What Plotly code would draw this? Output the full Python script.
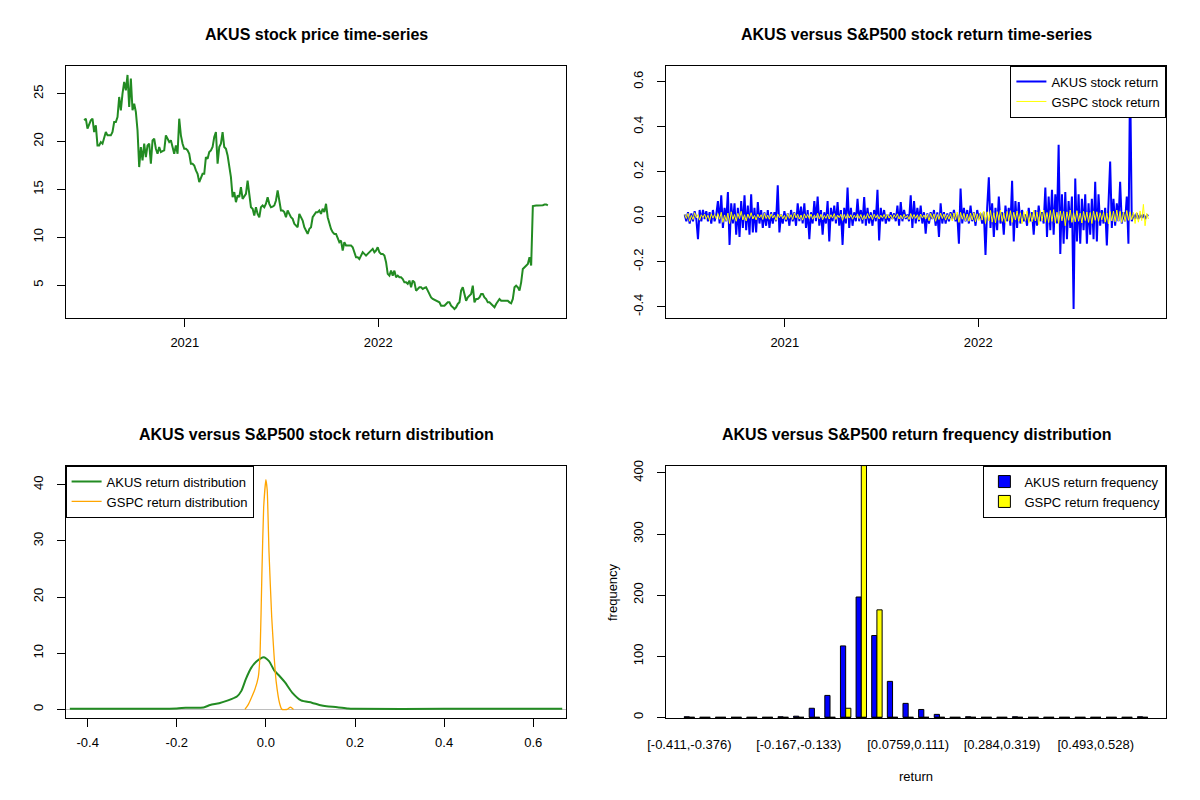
import pandas as pd
import plotly.graph_objects as go

FONT = "Liberation Sans, Arial, sans-serif"

################
# Data
################

# AKUS closing price, every 3 days
price_start, price_end = "2020-06-25", "2022-11-17"
akus_price = [
    22.21, 22.38, 21.34, 21.69, 22.21, 22.38, 20.99, 21.69, 19.59, 19.59,
    19.94, 19.77, 20.47, 20.99, 20.64, 20.64, 20.64, 20.99, 22.04, 22.04,
    22.56, 24.65, 23.26, 25.00, 26.22, 25.35, 26.95, 23.60, 26.57, 23.26,
    23.95, 23.08, 21.16, 17.33, 19.42, 18.03, 19.77, 18.37, 19.59, 19.77,
    17.68, 20.12, 20.29, 19.24, 18.72, 19.42, 18.90, 19.00, 19.07, 20.64,
    20.29, 19.94, 20.12, 19.50, 18.72, 19.59, 18.72, 22.38, 20.64, 19.77,
    19.24, 19.24, 19.07, 18.72, 17.68, 17.68, 17.50, 16.98, 16.63, 15.76,
    16.11, 16.63, 16.63, 18.37, 18.20, 18.90, 19.07, 19.42, 20.47, 20.99,
    17.68, 19.42, 19.77, 20.99, 19.42, 19.24, 18.55, 17.33, 16.28, 14.19,
    14.71, 13.66, 14.36, 14.19, 15.23, 14.01, 14.36, 14.54, 15.90, 14.36,
    13.14, 12.97, 12.27, 13.14, 12.44, 12.09, 13.14, 13.32, 13.14, 13.50,
    14.19, 13.49, 13.14, 13.20, 13.32, 13.84, 14.89, 13.84, 12.79, 12.79,
    12.62, 12.09, 12.79, 12.44, 12.09, 11.92, 11.40, 11.22, 11.05, 12.44,
    12.09, 11.75, 11.05, 10.70, 10.35, 10.87, 11.05, 12.09, 12.44, 12.62,
    12.62, 12.79, 12.44, 12.97, 12.62, 13.49, 12.09, 11.40, 10.87, 10.53,
    10.35, 10.35, 9.83, 9.48, 9.65, 8.61, 9.48, 9.13, 9.13, 9.13,
    9.13, 8.95, 8.43, 7.91, 7.91, 7.73, 8.08, 8.43, 8.26, 8.08,
    8.26, 8.43, 8.61, 8.78, 8.43, 8.61, 8.95, 8.43, 8.26, 8.26,
    8.08, 7.39, 6.17, 5.99, 6.51, 5.99, 6.51, 5.82, 5.99, 5.82,
    5.82, 5.64, 5.29, 5.29, 5.12, 5.47, 4.77, 5.47, 5.29, 4.42,
    4.59, 4.77, 4.77, 4.59, 4.70, 4.77, 4.42, 4.07, 3.72, 3.55,
    3.45, 3.37, 3.30, 3.20, 2.85, 2.85, 2.85, 3.03, 3.20, 3.20,
    2.85, 2.70, 2.50, 2.68, 3.03, 3.20, 4.42, 4.77, 3.90, 3.37,
    3.72, 3.90, 4.07, 4.94, 3.20, 3.55, 3.55, 3.72, 4.07, 4.07,
    3.72, 3.55, 3.20, 3.20, 3.03, 2.85, 2.68, 3.03, 3.37, 3.55,
    3.37, 3.40, 3.37, 3.37, 3.37, 3.20, 3.10, 3.55, 4.77, 4.94,
    4.77, 4.42, 5.29, 6.69, 6.86, 7.04, 7.21, 7.91, 7.04, 13.25,
    13.32, 13.32, 13.32, 13.32, 13.32, 13.35, 13.42, 13.42, 13.32,
]

# daily returns (sampled), AKUS and S&P500 index
ret_start, ret_end = "2020-06-26", "2022-11-18"
akus_return = [
    0.01, -0.02, 0.02, -0.03, 0.015, -0.02, 0.025, -0.01, -0.10, 0.03,
    -0.02, 0.03, -0.01, 0.025, -0.02, 0.02, -0.03, 0.03, -0.02, 0.01,
    0.07, -0.03, 0.095, -0.05, 0.04, -0.02, 0.11, -0.125, 0.06, -0.03,
    0.06, -0.08, 0.04, -0.09, 0.07, -0.05, 0.095, -0.06, 0.05, -0.08,
    0.10, -0.07, 0.04, -0.07, 0.065, -0.03, 0.03, -0.05, 0.02, -0.04,
    0.03, -0.05, 0.02, -0.03, 0.02, -0.02, 0.14, -0.07, 0.01, -0.03,
    0.025, -0.02, 0.015, -0.04, 0.03, -0.02, 0.02, -0.04, 0.06, -0.02,
    0.045, -0.03, 0.06, -0.05, 0.03, -0.10, 0.02, -0.03, 0.07, -0.02,
    0.09, -0.04, 0.03, -0.08, 0.02, -0.03, 0.07, -0.11, 0.04, -0.02,
    0.05, -0.03, 0.065, -0.04, 0.03, -0.125, 0.04, -0.03, 0.13, -0.05,
    0.04, -0.04, 0.02, -0.02, 0.08, -0.02, 0.03, -0.03, 0.087, -0.04,
    0.04, -0.03, 0.02, -0.04, 0.03, -0.02, 0.12, -0.105, 0.04, -0.02,
    0.03, -0.03, 0.01, -0.02, 0.02, -0.01, 0.015, -0.02, 0.05, -0.04,
    0.065, -0.02, 0.03, -0.01, 0.01, -0.02, 0.095, -0.05, 0.07, -0.03,
    0.04, -0.02, 0.05, -0.03, 0.02, -0.075, 0.015, -0.03, 0.02, -0.01,
    0.03, -0.04, 0.02, -0.09, 0.06, -0.03, 0.02, -0.03, 0.015, -0.02,
    0.02, -0.01, 0.03, -0.02, 0.01, -0.12, 0.125, -0.03, 0.04, -0.02,
    0.03, -0.03, 0.05, -0.02, 0.02, -0.04, 0.03, -0.01, 0.015, -0.03,
    0.02, -0.17, 0.04, 0.175, -0.05, 0.06, -0.09, 0.04, -0.06, 0.09,
    -0.03, 0.02, -0.08, 0.05, -0.02, 0.04, -0.04, 0.16, -0.11, 0.07,
    -0.05, 0.065, -0.03, 0.03, -0.02, 0.01, -0.04, 0.04, -0.02, 0.02,
    -0.08, 0.03, -0.04, 0.05, -0.02, 0.02, -0.03, 0.13, -0.09, 0.09,
    -0.06, 0.12, -0.08, 0.10, -0.03, 0.32, -0.165, 0.10, -0.12, 0.11,
    -0.10, 0.07, -0.05, 0.09, -0.41, 0.17, -0.11, 0.10, -0.12, 0.08,
    -0.06, 0.10, -0.12, 0.06, -0.08, 0.08, -0.10, 0.155, -0.11, 0.10,
    -0.04, 0.03, -0.03, 0.04, -0.127, 0.05, 0.245, -0.05, 0.08, -0.04,
    0.06, -0.02, 0.155, -0.03, 0.02, -0.02, 0.09, -0.12, 0.63, -0.02,
    0.01, -0.01, 0.015, -0.01, 0.01, -0.005, 0.01, -0.01, 0.005, 0.008,
]
gspc_return = [
    0.011, -0.008, 0.015, -0.02, 0.006, -0.012, 0.018, -0.005, 0.01, -0.015,
    0.009, -0.004, 0.012, -0.01, 0.007, -0.017, 0.013, -0.006, 0.01, -0.009,
    0.014, -0.011, 0.02, -0.025, 0.008, -0.018, 0.016, -0.03, 0.022, -0.012,
    0.01, -0.02, 0.015, -0.008, 0.024, -0.014, 0.009, -0.019, 0.012, -0.007,
    0.018, -0.01, 0.006, -0.014, 0.011, -0.005, 0.009, -0.012, 0.015, -0.008,
    0.007, -0.011, 0.013, -0.006, 0.008, -0.016, 0.012, -0.004, 0.01, -0.009,
    0.006, -0.013, 0.014, -0.007, 0.009, -0.012, 0.017, -0.005, 0.011, -0.01,
    0.008, -0.015, 0.013, -0.006, 0.01, -0.008, 0.012, -0.011, 0.007, -0.005,
    0.015, -0.009, 0.011, -0.013, 0.006, -0.007, 0.012, -0.01, 0.009, -0.006,
    0.014, -0.012, 0.008, -0.004, 0.011, -0.016, 0.01, -0.008, 0.013, -0.006,
    0.009, -0.011, 0.007, -0.005, 0.012, -0.008, 0.01, -0.013, 0.006, -0.009,
    0.014, -0.007, 0.008, -0.012, 0.011, -0.005, 0.009, -0.01, 0.007, -0.006,
    0.01, -0.008, 0.012, -0.006, 0.008, -0.011, 0.009, -0.004, 0.013, -0.01,
    0.007, -0.009, 0.011, -0.005, 0.006, -0.012, 0.014, -0.008, 0.01, -0.007,
    0.009, -0.014, 0.012, -0.006, 0.008, -0.01, 0.011, -0.018, 0.015, -0.009,
    0.013, -0.02, 0.01, -0.012, 0.016, -0.008, 0.012, -0.015, 0.009, -0.011,
    0.014, -0.019, 0.017, -0.013, 0.021, -0.025, 0.019, -0.011, 0.015, -0.018,
    0.012, -0.02, 0.016, -0.014, 0.018, -0.022, 0.013, -0.017, 0.02, -0.015,
    0.025, -0.03, 0.022, -0.019, 0.028, -0.024, 0.018, -0.027, 0.023, -0.016,
    0.03, -0.021, 0.017, -0.028, 0.024, -0.018, 0.027, -0.025, 0.02, -0.015,
    0.026, -0.02, 0.018, -0.03, 0.022, -0.017, 0.025, -0.028, 0.016, -0.022,
    0.029, -0.019, 0.021, -0.035, 0.027, -0.018, 0.03, -0.024, 0.019, -0.026,
    0.028, -0.021, 0.032, -0.027, 0.02, -0.03, 0.026, -0.018, 0.024, -0.04,
    0.022, -0.016, 0.03, -0.025, 0.018, -0.022, 0.027, -0.02, 0.016, -0.028,
    0.024, -0.017, 0.021, -0.025, 0.019, -0.03, 0.026, -0.016, 0.022, -0.021,
    0.018, -0.014, 0.02, -0.024, 0.017, -0.032, 0.023, -0.019, 0.025, -0.022,
    0.03, -0.018, 0.024, -0.026, 0.021, -0.02, 0.028, -0.016, 0.022, -0.013,
    0.019, -0.03, 0.02, -0.024, 0.026, -0.017, 0.055, -0.04, 0.015, -0.01,
]

# kernel density estimates of the returns
dens_akus_x = [-0.44, -0.30, -0.20, -0.18, -0.14, -0.125, -0.105, -0.085, -0.065, -0.055,
               -0.045, -0.033, -0.02, -0.005, 0.007, 0.019, 0.031, 0.043, 0.059, 0.079,
               0.103, 0.12, 0.136, 0.16, 0.184, 0.20, 0.40, 0.665]
dens_akus_y = [0.1, 0.1, 0.15, 0.3, 0.35, 0.8, 1.1, 1.6, 2.3, 3.3,
               5.4, 7.4, 8.6, 9.3, 8.6, 6.9, 5.9, 4.8, 3.0, 1.6,
               1.2, 0.8, 0.55, 0.4, 0.15, 0.1, 0.1, 0.1]
dens_gspc_x = [-0.047, -0.04, -0.033, -0.025, -0.017, -0.013, -0.009, -0.005, 0.0, 0.003,
               0.007, 0.013, 0.018, 0.023, 0.031, 0.036, 0.048, 0.055, 0.062]
dens_gspc_y = [0.0, 0.8, 2.0, 3.5, 5.8, 10.0, 24.0, 36.0, 40.9, 39.0,
               28.0, 16.5, 10.0, 5.0, 1.0, 0.0, 0.0, 0.4, 0.0]

# return frequency table (30 bins of width ~0.0348 starting at -0.411)
akus_freq = [1, 0, 0, 0, 0, 0, 1, 2, 15, 36, 117, 197, 134, 59, 23,
             13, 5, 0, 1, 0, 0, 1, 0, 0, 0, 0, 0, 0, 0, 1]
gspc_freq = [0, 0, 0, 0, 0, 0, 0, 0, 0, 0, 15, 412, 176, 0, 0,
             0, 0, 0, 0, 0, 0, 0, 0, 0, 0, 0, 0, 0, 0, 0]
bin_labels = ["[-0.411,-0.376)", "[-0.167,-0.133)", "[0.0759,0.111)",
              "[0.284,0.319)", "[0.493,0.528)"]
label_bins = [0, 7, 14, 20, 26]

################
# Helpers
################

W, H = 1200, 800
OFF = 8  # page body margin


def px_x(p):
    return (p - OFF) / W


def px_y(p):
    return 1 - (p - OFF) / H


# R mfrow=c(2,2) plot regions in pixels
left_dom = [px_x(65.6), px_x(566.4)]
right_dom = [px_x(665.6), px_x(1166.4)]
top_dom = [px_y(318.4), px_y(65.6)]
bot_dom = [px_y(718.4), px_y(465.6)]


def r_range(lo, hi):
    pad = (hi - lo) * 0.04
    return [lo - pad, hi + pad]


def axis_style(**kw):
    base = dict(
        showline=True, mirror=True, linecolor="black", linewidth=1,
        ticks="outside", ticklen=8, tickcolor="black", tickwidth=1,
        showgrid=False, zeroline=False, automargin=False,
        tickfont=dict(family=FONT, size=13, color="black"),
        ticklabelstandoff=4,
    )
    base.update(kw)
    return base


def y_style(**kw):
    return axis_style(tickangle=-90, ticklabelstandoff=8, **kw)


def fmt1(vals):
    return [f"{v:.1f}" for v in vals]


price_dates = pd.date_range(price_start, price_end, periods=len(akus_price))
ret_dates = pd.date_range(ret_start, ret_end, periods=len(akus_return))

d0, d1 = price_dates[0], price_dates[-1]
date_pad = (d1 - d0) * 0.04
date_range = [d0 - date_pad, d1 + date_pad]
year_ticks = ["2021-01-01", "2022-01-01"]
year_text = ["2021", "2022"]

fig = go.Figure()

################
# Panel 1: price
################
fig.add_trace(go.Scatter(
    x=price_dates, y=akus_price, mode="lines",
    line=dict(color="forestgreen", width=2),
    xaxis="x", yaxis="y", showlegend=False,
))

################
# Panel 2: returns
################
fig.add_trace(go.Scatter(
    x=ret_dates, y=akus_return, mode="lines", name="AKUS stock return",
    line=dict(color="#0000FF", width=2),
    xaxis="x2", yaxis="y2", legend="legend",
))
fig.add_trace(go.Scatter(
    x=ret_dates, y=gspc_return, mode="lines", name="GSPC stock return",
    line=dict(color="#FFFF00", width=1),
    xaxis="x2", yaxis="y2", legend="legend",
))

################
# Panel 3: density
################
fig.add_trace(go.Scatter(
    x=dens_akus_x, y=dens_akus_y, mode="lines", name="AKUS return distribution",
    line=dict(color="forestgreen", width=2, shape="spline", smoothing=0.6),
    xaxis="x3", yaxis="y3", legend="legend2",
))
fig.add_trace(go.Scatter(
    x=dens_gspc_x, y=dens_gspc_y, mode="lines", name="GSPC return distribution",
    line=dict(color="orange", width=1.3, shape="spline", smoothing=0.4),
    xaxis="x3", yaxis="y3", legend="legend2",
))

################
# Panel 4: frequency bars
################
n_bins = len(akus_freq)
blue_x = [3 * k + 1.5 for k in range(n_bins)]
yellow_x = [3 * k + 2.5 for k in range(n_bins)]
fig.add_trace(go.Bar(
    x=blue_x, y=akus_freq, width=1, name="AKUS return frequency",
    marker=dict(color="#0000FF", line=dict(color="black", width=1)),
    xaxis="x4", yaxis="y4", legend="legend3",
))
fig.add_trace(go.Bar(
    x=yellow_x, y=gspc_freq, width=1, name="GSPC return frequency",
    marker=dict(color="#FFFF00", line=dict(color="black", width=1)),
    xaxis="x4", yaxis="y4", legend="legend3",
))
# bottom edge of every bar (zero-height bars show as dashes in R)
seg_x, seg_y = [], []
for k in range(n_bins):
    seg_x += [3 * k + 1, 3 * k + 3, None]
    seg_y += [0, 0, None]
fig.add_trace(go.Scatter(
    x=seg_x, y=seg_y, mode="lines", line=dict(color="black", width=1.2),
    xaxis="x4", yaxis="y4", showlegend=False, hoverinfo="skip",
))

price_ticks = [5, 10, 15, 20, 25]
ret_ticks = [-0.4, -0.2, 0.0, 0.2, 0.4, 0.6]
dens_y_ticks = [0, 10, 20, 30, 40]
freq_ticks = [0, 100, 200, 300, 400]

legend_style = dict(
    bgcolor="white", bordercolor="black", borderwidth=1,
    font=dict(family=FONT, size=13, color="black"),
    tracegroupgap=0,
)

fig.update_layout(
    width=W, height=H,
    margin=dict(l=0, r=0, t=0, b=0, autoexpand=False),
    paper_bgcolor="white", plot_bgcolor="white",
    font=dict(family=FONT, size=13, color="black"),
    barmode="overlay",
    xaxis=axis_style(domain=left_dom, anchor="y", type="date", range=date_range,
                     tickvals=year_ticks, ticktext=year_text),
    yaxis=y_style(domain=top_dom, anchor="x", range=r_range(min(akus_price), max(akus_price)),
                  tickvals=price_ticks, ticktext=[str(v) for v in price_ticks]),
    xaxis2=axis_style(domain=right_dom, anchor="y2", type="date", range=date_range,
                      tickvals=year_ticks, ticktext=year_text),
    yaxis2=y_style(domain=top_dom, anchor="x2", range=r_range(min(akus_return), max(akus_return)),
                   tickvals=ret_ticks, ticktext=fmt1(ret_ticks)),
    xaxis3=axis_style(domain=left_dom, anchor="y3", range=[-0.4495, 0.6744],
                      tickvals=ret_ticks, ticktext=fmt1(ret_ticks)),
    yaxis3=y_style(domain=bot_dom, anchor="x3", range=[-1.6, 43.4],
                   tickvals=dens_y_ticks, ticktext=[str(v) for v in dens_y_ticks],
                   zeroline=True, zerolinecolor="#BEBEBE", zerolinewidth=1),
    xaxis4=axis_style(domain=right_dom, anchor="y4", range=r_range(1, 3 * n_bins),
                      ticks="", tickvals=[3 * k + 2 for k in label_bins], ticktext=bin_labels,
                      ticklabelstandoff=14),
    yaxis4=y_style(domain=bot_dom, anchor="x4", range=[-1.6, 412],
                   tickvals=freq_ticks, ticktext=[str(v) for v in freq_ticks]),
    legend=dict(legend_style, x=right_dom[1], y=top_dom[1], xanchor="right", yanchor="top"),
    legend2=dict(legend_style, x=left_dom[0], y=bot_dom[1], xanchor="left", yanchor="top"),
    legend3=dict(legend_style, x=right_dom[1], y=bot_dom[1], xanchor="right", yanchor="top"),
)

# panel titles and axis titles
titles = [
    ("AKUS stock price time-series", left_dom, 35),
    ("AKUS versus S&P500 stock return time-series", right_dom, 35),
    ("AKUS versus S&P500 stock return distribution", left_dom, 435),
    ("AKUS versus S&P500 return frequency distribution", right_dom, 435),
]
for text, dom, ypix in titles:
    fig.add_annotation(
        text=f"<b>{text}</b>", xref="paper", yref="paper",
        x=(dom[0] + dom[1]) / 2, y=px_y(ypix), showarrow=False,
        xanchor="center", yanchor="middle",
        font=dict(family=FONT, size=16, color="black"),
    )
fig.add_annotation(
    text="return", xref="paper", yref="paper",
    x=(right_dom[0] + right_dom[1]) / 2, y=px_y(776), showarrow=False,
    xanchor="center", yanchor="middle", font=dict(family=FONT, size=13, color="black"),
)
fig.add_annotation(
    text="frequency", xref="paper", yref="paper", textangle=-90,
    x=px_x(612), y=(bot_dom[0] + bot_dom[1]) / 2, showarrow=False,
    xanchor="center", yanchor="middle", font=dict(family=FONT, size=13, color="black"),
)

fig.write_html("out.html")
